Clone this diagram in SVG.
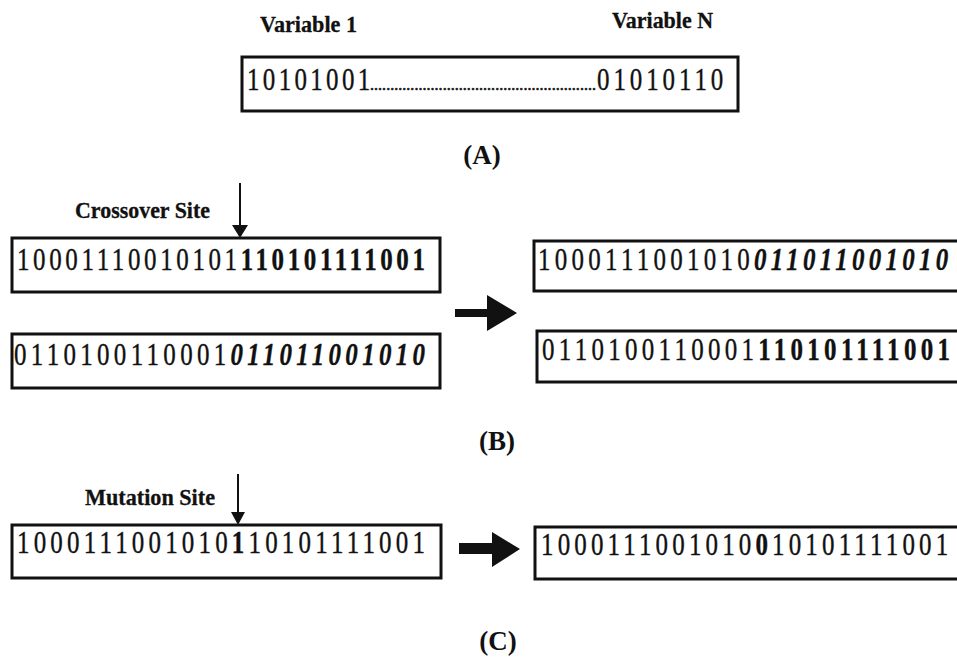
<svg xmlns="http://www.w3.org/2000/svg" width="957" height="662" viewBox="0 0 957 662">
  <style>
    .box { fill: #fff; stroke: #111; stroke-width: 3; }
    .bits { font-family: "Liberation Serif", "Times New Roman", serif; font-size: 32px; fill: #111; stroke: #111; stroke-width: 0.4; }
    .b { font-weight: bold; }
    .bi { font-weight: bold; font-style: italic; }
    .lbl { font-family: "Liberation Serif", "Times New Roman", serif; font-weight: bold; font-size: 23px; fill: #111; stroke: #111; stroke-width: 0.3; }
    .cap { font-family: "Liberation Serif", "Times New Roman", serif; font-weight: bold; font-size: 27px; fill: #111; text-anchor: middle; }
    .site { stroke: #111; stroke-width: 2; fill: none; }
    .big { fill: #111; stroke: none; }
  </style>
  <rect width="957" height="662" fill="#fff"/>

  <!-- (A) chromosome encoding; bit strings use narrow, spaced-out digits -->
  <g id="encoding">
    <text class="lbl" x="260" y="32" textLength="97" lengthAdjust="spacingAndGlyphs">Variable 1</text>
    <text class="lbl" x="612" y="28" textLength="101" lengthAdjust="spacingAndGlyphs">Variable N</text>
    <rect class="box" x="242" y="57" width="496" height="54"/>
    <text class="bits" transform="translate(247,90) scale(0.78,1)" textLength="158" lengthAdjust="spacing">10101001</text>
    <text class="bits" x="370" y="90" style="font-size:16px;stroke-width:0.6" textLength="226" lengthAdjust="spacing">........................................................</text>
    <text class="bits" transform="translate(597,90) scale(0.78,1)" textLength="162" lengthAdjust="spacing">01010110</text>
    <text class="cap" x="482" y="164">(A)</text>
  </g>

  <!-- (B) crossover: parents -->
  <g id="parent1">
    <text class="lbl" x="75" y="218" textLength="135" lengthAdjust="spacingAndGlyphs">Crossover Site</text>
    <rect class="box" x="12" y="238" width="428" height="54"/>
    <text class="bits" transform="translate(17,270) scale(0.78,1)" textLength="523" lengthAdjust="spacing">10001110010101<tspan class="b">110101111001</tspan></text>
  </g>
  <g id="parent2">
    <rect class="box" x="12" y="334" width="428" height="54"/>
    <text class="bits" transform="translate(14,365) scale(0.78,1)" textLength="527" lengthAdjust="spacing">0110100110001<tspan class="bi">011011001010</tspan></text>
  </g>

  <!-- (B) crossover: offspring -->
  <g id="child1">
    <rect class="box" x="534" y="241" width="430" height="50"/>
    <text class="bits" transform="translate(538,270) scale(0.78,1)" textLength="526" lengthAdjust="spacing">1000111001010<tspan class="bi">011011001010</tspan></text>
  </g>
  <g id="child2">
    <rect class="box" x="537" y="331" width="430" height="51"/>
    <text class="bits" transform="translate(542,360) scale(0.78,1)" textLength="523" lengthAdjust="spacing">0110100110001<tspan class="b">110101111001</tspan></text>
  </g>
  <text class="cap" x="497" y="450">(B)</text>

  <!-- (C) mutation -->
  <g id="original">
    <text class="lbl" x="85" y="505" textLength="130" lengthAdjust="spacingAndGlyphs">Mutation Site</text>
    <rect class="box" x="12" y="525" width="429" height="53"/>
    <text class="bits" transform="translate(17,553) scale(0.78,1)" textLength="523" lengthAdjust="spacing">1000111001010<tspan class="b">1</tspan>10101111001</text>
  </g>
  <g id="mutant">
    <rect class="box" x="535" y="527" width="430" height="52"/>
    <text class="bits" transform="translate(541,555) scale(0.78,1)" textLength="522" lengthAdjust="spacing">1000111001010<tspan class="b">0</tspan>10101111001</text>
  </g>
  <text class="cap" x="498" y="650">(C)</text>

  <g id="connectors">
    <!-- site pointers -->
    <line class="site" x1="240" y1="183" x2="240" y2="226"/>
    <path class="big" d="M232,225 L248,225 L240,238 Z"/>
    <line class="site" x1="238" y1="474" x2="238" y2="513"/>
    <path class="big" d="M231,512 L245,512 L238,525 Z"/>
    <!-- transition arrows -->
    <path class="big" d="M455,309 L487,309 L487,295 L517,313 L487,331 L487,317 L455,317 Z"/>
    <path class="big" d="M459,543 L492,543 L492,532 L520,549 L492,567 L492,554 L459,554 Z"/>
  </g>
</svg>
